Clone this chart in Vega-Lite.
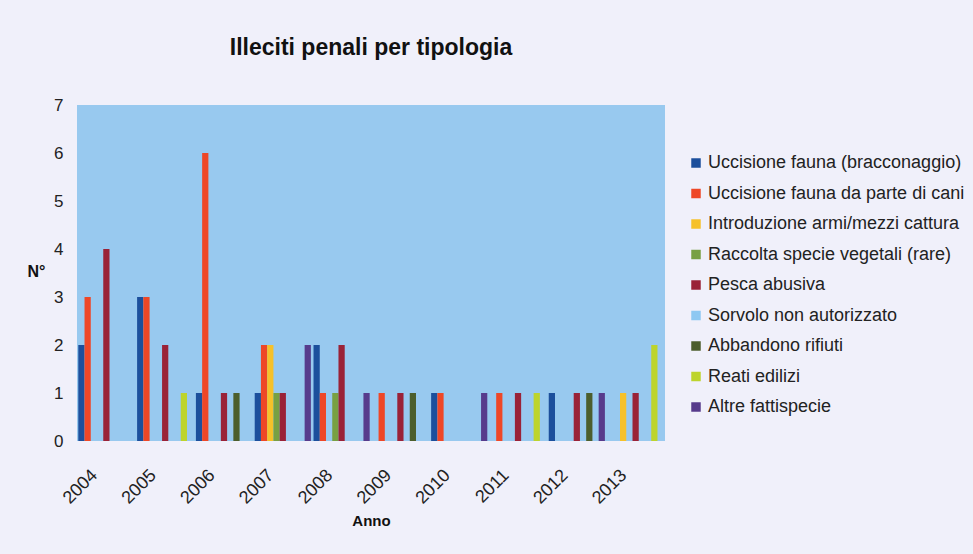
{
  "$schema": "https://vega.github.io/schema/vega-lite/v6.json",
  "autosize": {"type": "none"},
  "width": 588,
  "height": 336,
  "padding": {"left": 77, "top": 105, "right": 308, "bottom": 113},
  "background": "#f0f0fa",
  "title": {
    "text": "Illeciti penali per tipologia",
    "anchor": "middle",
    "frame": "group",
    "offset": 36,
    "font": "Liberation Sans",
    "fontSize": 23,
    "fontWeight": "bold",
    "color": "#111111"
  },
  "data": {
    "values": [
      {"anno": "2004", "tipologia": "Uccisione fauna (bracconaggio)", "n": 2},
      {"anno": "2004", "tipologia": "Uccisione fauna da parte di cani", "n": 3},
      {"anno": "2004", "tipologia": "Pesca abusiva", "n": 4},
      {"anno": "2005", "tipologia": "Uccisione fauna (bracconaggio)", "n": 3},
      {"anno": "2005", "tipologia": "Uccisione fauna da parte di cani", "n": 3},
      {"anno": "2005", "tipologia": "Pesca abusiva", "n": 2},
      {"anno": "2005", "tipologia": "Reati edilizi", "n": 1},
      {"anno": "2006", "tipologia": "Uccisione fauna (bracconaggio)", "n": 1},
      {"anno": "2006", "tipologia": "Uccisione fauna da parte di cani", "n": 6},
      {"anno": "2006", "tipologia": "Pesca abusiva", "n": 1},
      {"anno": "2006", "tipologia": "Abbandono rifiuti", "n": 1},
      {"anno": "2007", "tipologia": "Uccisione fauna (bracconaggio)", "n": 1},
      {"anno": "2007", "tipologia": "Uccisione fauna da parte di cani", "n": 2},
      {"anno": "2007", "tipologia": "Introduzione armi/mezzi cattura", "n": 2},
      {"anno": "2007", "tipologia": "Raccolta specie vegetali (rare)", "n": 1},
      {"anno": "2007", "tipologia": "Pesca abusiva", "n": 1},
      {"anno": "2007", "tipologia": "Altre fattispecie", "n": 2},
      {"anno": "2008", "tipologia": "Uccisione fauna (bracconaggio)", "n": 2},
      {"anno": "2008", "tipologia": "Uccisione fauna da parte di cani", "n": 1},
      {"anno": "2008", "tipologia": "Raccolta specie vegetali (rare)", "n": 1},
      {"anno": "2008", "tipologia": "Pesca abusiva", "n": 2},
      {"anno": "2008", "tipologia": "Altre fattispecie", "n": 1},
      {"anno": "2009", "tipologia": "Uccisione fauna da parte di cani", "n": 1},
      {"anno": "2009", "tipologia": "Pesca abusiva", "n": 1},
      {"anno": "2009", "tipologia": "Abbandono rifiuti", "n": 1},
      {"anno": "2010", "tipologia": "Uccisione fauna (bracconaggio)", "n": 1},
      {"anno": "2010", "tipologia": "Uccisione fauna da parte di cani", "n": 1},
      {"anno": "2010", "tipologia": "Altre fattispecie", "n": 1},
      {"anno": "2011", "tipologia": "Uccisione fauna da parte di cani", "n": 1},
      {"anno": "2011", "tipologia": "Pesca abusiva", "n": 1},
      {"anno": "2011", "tipologia": "Reati edilizi", "n": 1},
      {"anno": "2012", "tipologia": "Uccisione fauna (bracconaggio)", "n": 1},
      {"anno": "2012", "tipologia": "Pesca abusiva", "n": 1},
      {"anno": "2012", "tipologia": "Abbandono rifiuti", "n": 1},
      {"anno": "2012", "tipologia": "Altre fattispecie", "n": 1},
      {"anno": "2013", "tipologia": "Introduzione armi/mezzi cattura", "n": 1},
      {"anno": "2013", "tipologia": "Pesca abusiva", "n": 1},
      {"anno": "2013", "tipologia": "Reati edilizi", "n": 2}
    ]
  },
  "mark": {"type": "bar", "opacity": 1},
  "encoding": {
    "x": {
      "field": "anno",
      "type": "nominal",
      "scale": {"paddingInner": 0.045, "paddingOuter": 0.022},
      "axis": {
        "title": "Anno",
        "titleFont": "Liberation Sans",
        "titleFontSize": 15,
        "titleFontWeight": "bold",
        "titleColor": "#111111",
        "titleY": 72,
        "labelAngle": -45,
        "labelFont": "Liberation Sans",
        "labelFontSize": 18,
        "labelColor": "#222222",
        "labelPadding": 25,
        "labelOffset": -18,
        "ticks": false,
        "domain": false
      }
    },
    "xOffset": {
      "field": "tipologia",
      "type": "nominal",
      "scale": {
        "domain": [
          "Uccisione fauna (bracconaggio)",
          "Uccisione fauna da parte di cani",
          "Introduzione armi/mezzi cattura",
          "Raccolta specie vegetali (rare)",
          "Pesca abusiva",
          "Sorvolo non autorizzato",
          "Abbandono rifiuti",
          "Reati edilizi",
          "Altre fattispecie"
        ],
        "paddingInner": 0,
        "paddingOuter": 0
      }
    },
    "y": {
      "field": "n",
      "type": "quantitative",
      "scale": {"domain": [0, 7], "nice": false},
      "axis": {
        "title": "N°",
        "titleAngle": 0,
        "titleX": -41,
        "titleY": 166,
        "titleAlign": "center",
        "titleBaseline": "middle",
        "titleFont": "Liberation Sans",
        "titleFontSize": 16,
        "titleFontWeight": "bold",
        "titleColor": "#111111",
        "values": [0, 1, 2, 3, 4, 5, 6, 7],
        "labelFont": "Liberation Sans",
        "labelFontSize": 17,
        "labelColor": "#222222",
        "labelPadding": 14,
        "ticks": false,
        "domain": false,
        "grid": false
      }
    },
    "color": {
      "field": "tipologia",
      "type": "nominal",
      "scale": {
        "domain": [
          "Uccisione fauna (bracconaggio)",
          "Uccisione fauna da parte di cani",
          "Introduzione armi/mezzi cattura",
          "Raccolta specie vegetali (rare)",
          "Pesca abusiva",
          "Sorvolo non autorizzato",
          "Abbandono rifiuti",
          "Reati edilizi",
          "Altre fattispecie"
        ],
        "range": ["#1c4f9c", "#ee4727", "#f6c12a", "#78a043", "#9a2237", "#8ec8f2", "#4c5e2c", "#bdd42c", "#573b8c"]
      },
      "legend": {
        "title": null,
        "orient": "none",
        "legendX": 610,
        "legendY": 49,
        "symbolType": "square",
        "symbolSize": 90,
        "symbolStrokeWidth": 0,
        "symbolOpacity": 1,
        "labelFont": "Liberation Sans",
        "labelFontSize": 18,
        "labelColor": "#222222",
        "labelOffset": 3,
        "labelLimit": 400,
        "rowPadding": 12.5
      }
    }
  },
  "config": {
    "view": {"fill": "#98c9ef", "stroke": null}
  }
}
